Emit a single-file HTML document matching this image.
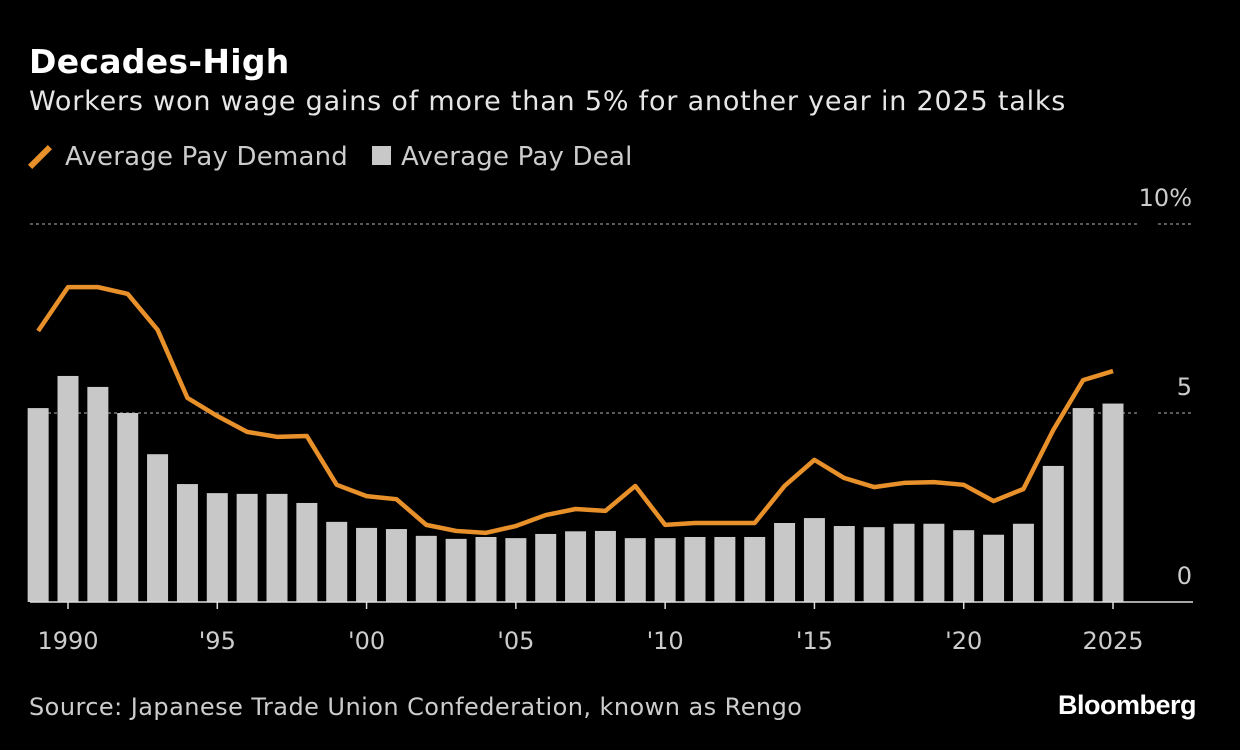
<!DOCTYPE html>
<html><head><meta charset="utf-8"><style>
body{margin:0;background:#000;width:1240px;height:750px;overflow:hidden;font-family:"DejaVu Sans",sans-serif;color:#ddd}
.t{position:absolute;white-space:nowrap}
</style></head><body>
<div class="t" style="left:29px;top:42px;font-size:33px;letter-spacing:0.3px;font-weight:bold;color:#fff">Decades-High</div>
<div class="t" style="left:29px;top:86px;font-size:27px;letter-spacing:0.8px;color:#e6e6e6">Workers won wage gains of more than 5% for another year in 2025 talks</div>
<div class="t" style="left:29px;top:142px;font-size:26px;letter-spacing:0.2px;color:#ccc"><span style="display:inline-block;width:6px;height:28px;background:#e8902a;transform:rotate(45deg);margin:0 22px -6px 8px"></span>Average Pay Demand</div>
<div class="t" style="left:372px;top:142px;font-size:26px;letter-spacing:0.2px;color:#ccc"><span style="display:inline-block;width:19px;height:19px;background:#c8c8c8;margin-right:10px"></span>Average Pay Deal</div>
<div class="t" style="left:29px;top:693px;font-size:24px;letter-spacing:0.45px;color:#ccc">Source: Japanese Trade Union Confederation, known as Rengo</div>
<div class="t" style="left:1058px;top:690px;font-family:'Liberation Sans',sans-serif;font-size:27px;font-weight:bold;color:#fff;letter-spacing:-0.5px">Bloomberg</div>
<svg id="c" class="t" style="left:0;top:0" width="1240" height="750"></svg>
<script>
const years=[1989,1990,1991,1992,1993,1994,1995,1996,1997,1998,1999,2000,2001,2002,2003,2004,2005,2006,2007,2008,2009,2010,2011,2012,2013,2014,2015,2016,2017,2018,2019,2020,2021,2022,2023,2024,2025];
const deal=[5.13,5.98,5.69,5.0,3.91,3.12,2.88,2.86,2.86,2.62,2.12,1.96,1.93,1.75,1.67,1.72,1.69,1.8,1.87,1.88,1.69,1.69,1.72,1.72,1.72,2.09,2.22,2.01,1.98,2.07,2.07,1.9,1.78,2.07,3.6,5.13,5.25];
const demand=[7.17,8.33,8.33,8.15,7.2,5.4,4.92,4.5,4.37,4.39,3.1,2.8,2.72,2.04,1.88,1.83,2.01,2.3,2.46,2.41,3.07,2.04,2.09,2.09,2.09,3.07,3.76,3.28,3.04,3.15,3.17,3.1,2.67,2.99,4.55,5.87,6.11];
const yTicks=[0,5,10];
const yTickLabels=["0","5","10%"];
const xTicks=[1990,1995,2000,2005,2010,2015,2020,2025];
const xTickLabels=["1990","'95","'00","'05","'10","'15","'20","2025"];
const X=y=>68+(y-1990)*(1113-68)/35;
const Y=v=>602-v*37.8;
const s=document.getElementById('c');const NS="http://www.w3.org/2000/svg";
function mk(t,a){const e=document.createElementNS(NS,t);for(const k in a)e.setAttribute(k,a[k]);s.appendChild(e);return e;}
yTicks.forEach((v,i)=>{
 if(v>0){const g=mk('line',{x1:30,x2:1138,y1:Y(v),y2:Y(v),stroke:'#777','stroke-width':1.5,'stroke-dasharray':'3 3'});
 
 
 const g2=mk('line',{x1:1158,x2:1193,y1:Y(v),y2:Y(v),stroke:'#777','stroke-width':1.5,'stroke-dasharray':'3 3'});
 
 }
 const t=mk('text',{x:1192,y:Y(v)-18,'text-anchor':'end','font-size':24,fill:'#ccc','font-family':'DejaVu Sans'});t.textContent=yTickLabels[i];
 
 
});
years.forEach((yr,i)=>{
 const b=mk('rect',{x:X(yr)-10.5,y:Y(deal[i]),width:21,height:Y(0)-Y(deal[i]),fill:'#c8c8c8'});
 
 
});
const base=mk('line',{x1:30,x2:1193,y1:602,y2:602,stroke:'#ddd','stroke-width':1.5});


xTicks.forEach((yr,i)=>{
 const tk=mk('line',{x1:X(yr),x2:X(yr),y1:602,y2:609,stroke:'#ddd','stroke-width':1.5});
 
 
 const t=mk('text',{x:X(yr),y:649,'text-anchor':'middle','font-size':24,fill:'#ccc','font-family':'DejaVu Sans'});t.textContent=xTickLabels[i];
 
 
});
const p=mk('polyline',{points:years.map((yr,i)=>X(yr)+','+Y(demand[i])).join(' '),fill:'none',stroke:'#e8902a','stroke-width':4.5,'stroke-linejoin':'round'});


</script>
</body></html>
